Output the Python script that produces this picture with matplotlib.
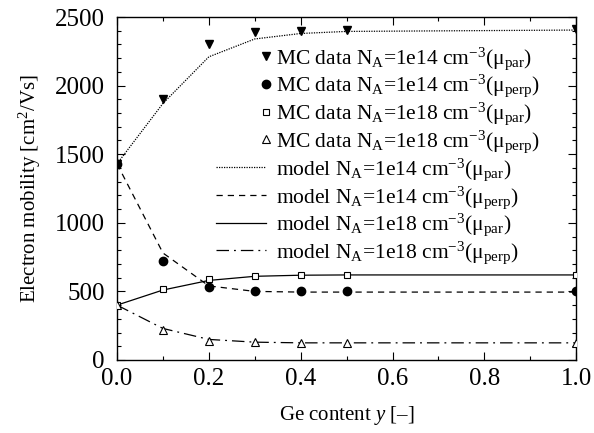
import numpy as np
import matplotlib
matplotlib.use('Agg')
import matplotlib.pyplot as plt
from matplotlib.legend_handler import HandlerLine2DCompound

plt.rcParams['font.family'] = ['Liberation Serif', 'DejaVu Serif']
plt.rcParams['mathtext.fontset'] = 'custom'
plt.rcParams['mathtext.rm'] = 'Liberation Serif'
plt.rcParams['mathtext.it'] = 'Liberation Serif:italic'

# Ge content
x_data = [0.0, 0.1, 0.2, 0.3, 0.4, 0.5, 1.0]

# Monte Carlo data
mc_par_14 = [1430, 1900, 2300, 2390, 2400, 2405, 2410]
mc_perp_14 = [1430, 720, 530, 500, 500, 500, 500]
mc_par_18 = [400, 520, 590, 615, 620, 620, 620]
mc_perp_18 = [400, 215, 140, 130, 125, 125, 125]

# model curves
model_par_14 = [1430, 1870, 2210, 2340, 2380, 2395, 2405]
model_perp_14 = [1430, 780, 540, 500, 495, 495, 495]
model_par_18 = [400, 510, 580, 610, 618, 620, 620]
model_perp_18 = [400, 230, 150, 130, 125, 125, 125]

labels = [
    'MC data N$_\\mathrm{A}$=1e14 cm$^{-3}$(μ$_\\mathrm{par}$)',
    'MC data N$_\\mathrm{A}$=1e14 cm$^{-3}$(μ$_\\mathrm{perp}$)',
    'MC data N$_\\mathrm{A}$=1e18 cm$^{-3}$(μ$_\\mathrm{par}$)',
    'MC data N$_\\mathrm{A}$=1e18 cm$^{-3}$(μ$_\\mathrm{perp}$)',
    'model N$_\\mathrm{A}$=1e14 cm$^{-3}$(μ$_\\mathrm{par}$)',
    'model N$_\\mathrm{A}$=1e14 cm$^{-3}$(μ$_\\mathrm{perp}$)',
    'model N$_\\mathrm{A}$=1e18 cm$^{-3}$(μ$_\\mathrm{par}$)',
    'model N$_\\mathrm{A}$=1e18 cm$^{-3}$(μ$_\\mathrm{perp}$)',
]


class RightMarker(HandlerLine2DCompound):
    """Put the legend marker at the right end of the handle (gnuplot style)"""
    def get_xdata(self, legend, xdescent, ydescent, width, height, fontsize):
        xdata = np.array([-xdescent, -xdescent + width])
        return xdata, np.array([-xdescent + width])


fig = plt.figure(figsize=(5.94, 4.33), dpi=100)
ax = fig.add_axes([0.197, 0.1686, 0.773, 0.7921])

h1, = ax.plot(x_data, mc_par_14, 'v', color='k', ms=6, ls='none')
h2, = ax.plot(x_data, mc_perp_14, 'o', color='k', ms=6, ls='none')
h3, = ax.plot(x_data, mc_par_18, 's', mfc='white', mec='k', ms=4.5, mew=0.8, ls='none')
h4, = ax.plot(x_data, mc_perp_18, '^', mfc='white', mec='k', ms=6, mew=0.8, ls='none')
h5, = ax.plot(x_data, model_par_14, color='k', lw=0.9, ls=(0, (1, 1)))
h6, = ax.plot(x_data, model_perp_14, color='k', lw=0.9, ls=(0, (5, 4)))
h7, = ax.plot(x_data, model_par_18, color='k', lw=0.9, ls='-')
h8, = ax.plot(x_data, model_perp_18, color='k', lw=0.9, ls=(0, (10, 4, 1.5, 4)))
for h in (h1, h2, h3, h4):
    h.set_zorder(3)

ax.set_xlim(0, 1.0)
ax.set_ylim(0, 2500)
ax.set_xticks(np.arange(0, 1.01, 0.2))
ax.set_xticks(np.arange(0, 1.01, 0.1), minor=True)
ax.set_yticks(np.arange(0, 2501, 500))
ax.set_yticks(np.arange(0, 2501, 100), minor=True)
ax.xaxis.set_major_formatter(plt.FormatStrFormatter('%.1f'))
ax.tick_params(which='both', direction='in', top=True, right=True, labelsize=18)
ax.tick_params(which='major', length=6, width=0.8)
ax.tick_params(which='minor', length=3, width=0.8)
ax.tick_params(axis='x', pad=6)
ax.tick_params(axis='y', pad=9)
for s in ax.spines.values():
    s.set_linewidth(1.0)

ax.set_xlabel('Ge content $y$ [–]', fontsize=15, labelpad=10)
ax.set_ylabel('Electron mobility [cm$^2$/Vs]', fontsize=15, labelpad=8)

handles = [h1, h2, h3, h4, h5, h6, h7, h8]
ax.legend(handles, labels, loc='upper left', frameon=False, fontsize=15.5,
          handlelength=2.3, handletextpad=0.5, labelspacing=0.05,
          borderpad=0, borderaxespad=0,
          bbox_to_anchor=(216 / 594, 1 - 45 / 433), bbox_transform=fig.transFigure,
          handler_map={h: RightMarker(numpoints=1) for h in handles[:4]})

plt.savefig('out.png', dpi=100)
plt.close()
